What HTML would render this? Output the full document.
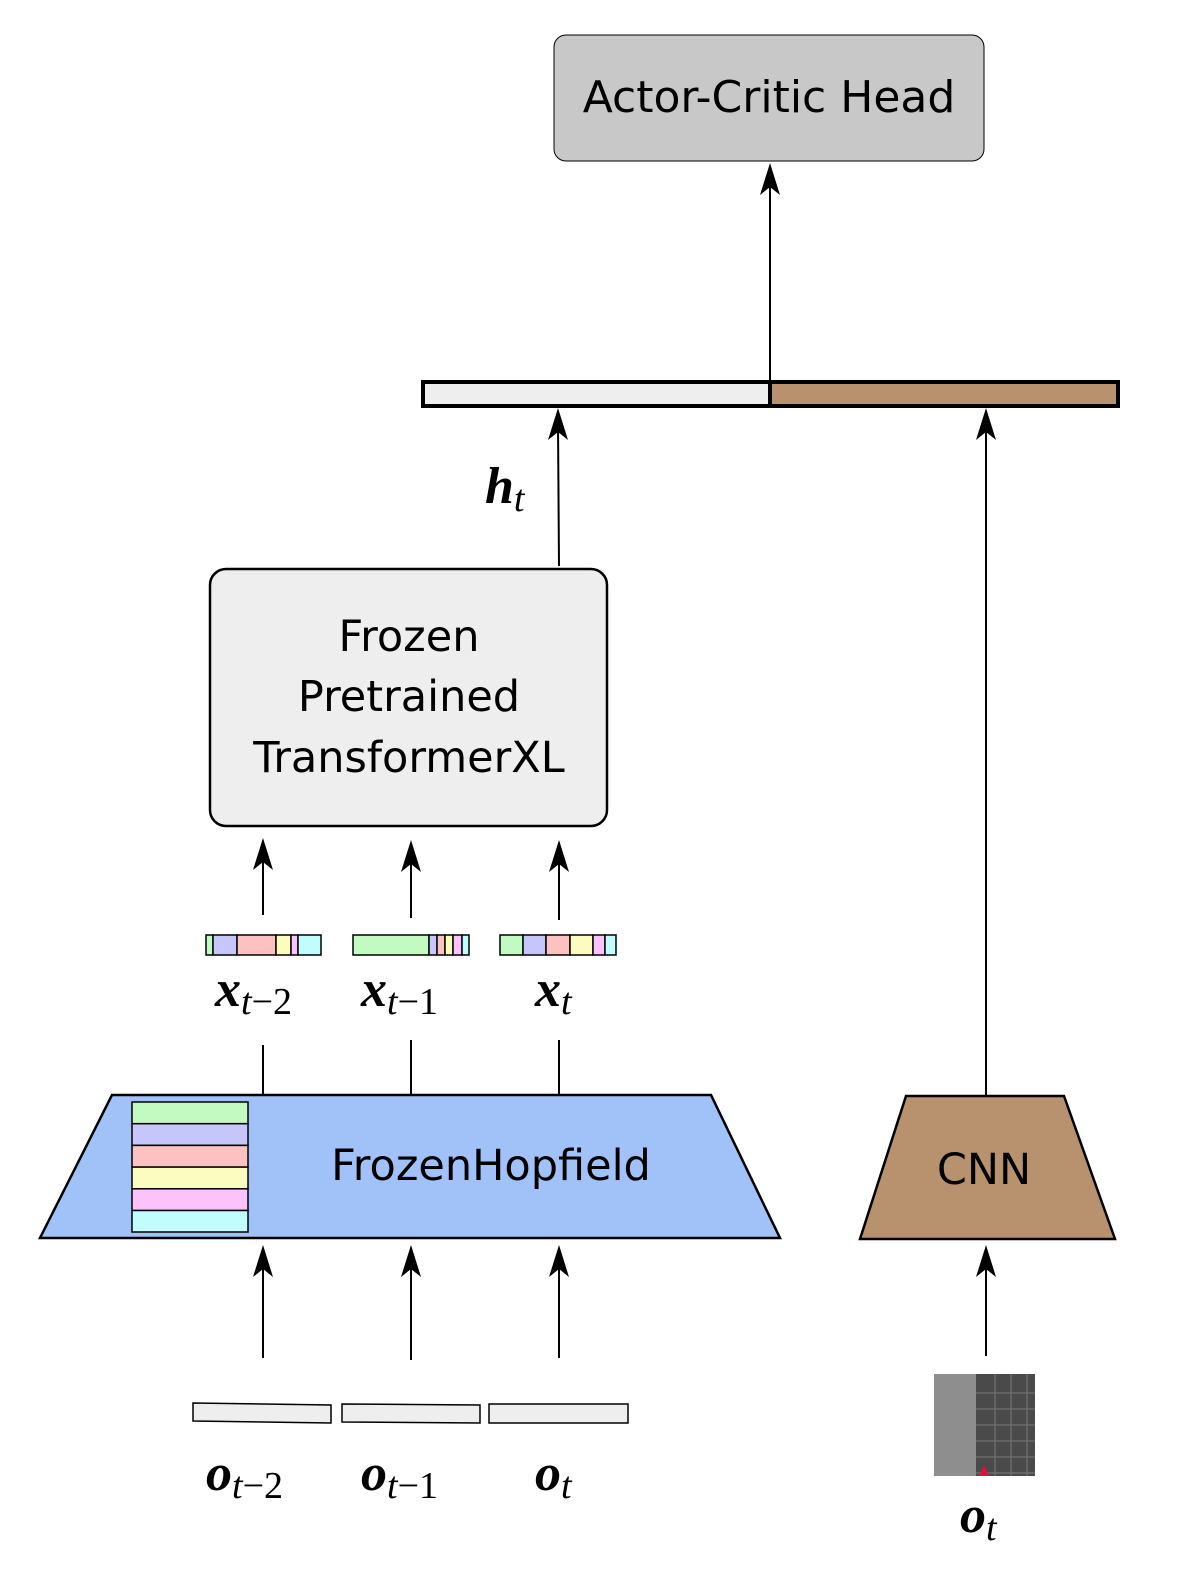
<!DOCTYPE html>
<html><head><style>body{margin:0;background:#fff}svg{display:block}</style></head><body>
<svg width="1182" height="1575" viewBox="0 0 1182 1575" xmlns="http://www.w3.org/2000/svg">
<g font-family="'DejaVu Sans', sans-serif">
<rect x="554" y="35" width="430" height="126" rx="12" fill="#c8c8c8" stroke="#000" stroke-width="1"/>
<text x="769" y="112" text-anchor="middle" font-size="44">Actor-Critic Head</text>
<rect x="423" y="382" width="347" height="24" fill="#eeeeee" stroke="#000" stroke-width="4"/>
<rect x="770" y="382" width="348" height="24" fill="#b8926e" stroke="#000" stroke-width="4"/>
<rect x="210" y="569" width="397" height="257" rx="16" fill="#eeeeee" stroke="#000" stroke-width="2.5"/>
<text x="409" y="651" text-anchor="middle" font-size="43">Frozen</text>
<text x="409" y="711" text-anchor="middle" font-size="43">Pretrained</text>
<text x="409" y="772" text-anchor="middle" font-size="43">TransformerXL</text>
<polygon points="112,1095 711,1095 780,1238 40,1238" fill="#a0c2f8" stroke="#000" stroke-width="2.5"/>
<g stroke="#000" stroke-width="1.5">
<rect x="132" y="1102" width="116" height="21.7" fill="#c2fac2"/>
<rect x="132" y="1123.7" width="116" height="21.7" fill="#c6c6fa"/>
<rect x="132" y="1145.4" width="116" height="21.7" fill="#fcc2c2"/>
<rect x="132" y="1167.1" width="116" height="21.7" fill="#fcfcc0"/>
<rect x="132" y="1188.8" width="116" height="21.7" fill="#fcc2fc"/>
<rect x="132" y="1210.5" width="116" height="21.5" fill="#c2fcfc"/>
</g>
<text x="491" y="1180" text-anchor="middle" font-size="43">FrozenHopfield</text>
<polygon points="906,1096 1064,1096 1115,1239 860,1239" fill="#b8926e" stroke="#000" stroke-width="2.5"/>
<text x="984" y="1184" text-anchor="middle" font-size="43">CNN</text>
</g>
<g stroke="#000" stroke-width="1.5">
<rect x="206" y="935" width="7" height="20" fill="#c2fac2"/><rect x="213" y="935" width="24" height="20" fill="#c6c6fa"/><rect x="237" y="935" width="39" height="20" fill="#fcc2c2"/><rect x="276" y="935" width="15" height="20" fill="#fcfcc0"/><rect x="291" y="935" width="7" height="20" fill="#fcc2fc"/><rect x="298" y="935" width="23" height="20" fill="#c2fcfc"/>
<rect x="353" y="935" width="76" height="20" fill="#c2fac2"/><rect x="429" y="935" width="8" height="20" fill="#c6c6fa"/><rect x="437" y="935" width="8" height="20" fill="#fcc2c2"/><rect x="445" y="935" width="8" height="20" fill="#fcfcc0"/><rect x="453" y="935" width="9" height="20" fill="#fcc2fc"/><rect x="462" y="935" width="7" height="20" fill="#c2fcfc"/>
<rect x="500" y="935" width="23" height="20" fill="#c2fac2"/><rect x="523" y="935" width="23" height="20" fill="#c6c6fa"/><rect x="546" y="935" width="24" height="20" fill="#fcc2c2"/><rect x="570" y="935" width="23" height="20" fill="#fcfcc0"/><rect x="593" y="935" width="12" height="20" fill="#fcc2fc"/><rect x="605" y="935" width="11" height="20" fill="#c2fcfc"/>
<polygon points="193,1403 331,1405 331,1423 193,1421" fill="#eeeeee"/>
<polygon points="342,1404 480,1405 480,1423 342,1422" fill="#eeeeee"/>
<rect x="489" y="1404" width="139" height="19" fill="#eeeeee"/>
</g>
<rect x="934" y="1374" width="42" height="102" fill="#8e8e8e"/>
<rect x="976" y="1374" width="59" height="102" fill="#4a4a4a"/>
<g stroke="#6a6a6a" stroke-width="1.5">
<line x1="995" y1="1374" x2="995" y2="1476"/><line x1="1011" y1="1374" x2="1011" y2="1476"/><line x1="1027" y1="1374" x2="1027" y2="1476"/>
<line x1="976" y1="1393" x2="1035" y2="1393"/><line x1="976" y1="1409" x2="1035" y2="1409"/><line x1="976" y1="1425" x2="1035" y2="1425"/><line x1="976" y1="1441" x2="1035" y2="1441"/><line x1="976" y1="1457" x2="1035" y2="1457"/><line x1="976" y1="1473" x2="1035" y2="1473"/>
</g>
<polygon points="984,1465 979,1476 989,1476" fill="#dc143c"/>
<g stroke="#000" stroke-width="2" fill="none">
<line x1="770" y1="382" x2="770" y2="180"/>
<line x1="559" y1="566" x2="558" y2="425"/>
<line x1="986" y1="1096" x2="986" y2="425"/>
<line x1="263" y1="915" x2="263" y2="855"/>
<line x1="411" y1="918" x2="411" y2="855"/>
<line x1="559" y1="920" x2="559" y2="855"/>
<line x1="263" y1="1045" x2="263" y2="1095"/>
<line x1="411" y1="1040" x2="411" y2="1095"/>
<line x1="559" y1="1040" x2="559" y2="1095"/>
<line x1="263" y1="1358" x2="263" y2="1262"/>
<line x1="411" y1="1360" x2="411" y2="1262"/>
<line x1="559" y1="1358" x2="559" y2="1262"/>
<line x1="986" y1="1356" x2="986" y2="1262"/>
</g>
<g fill="#000">
<path d="M770,163 l-10,32 l10,-8 l10,8z"/>
<path d="M558,408 l-10,32 l10,-8 l10,8z"/>
<path d="M986,408 l-10,32 l10,-8 l10,8z"/>
<path d="M263,838 l-10,32 l10,-8 l10,8z"/>
<path d="M411,840 l-10,32 l10,-8 l10,8z"/>
<path d="M559,840 l-10,32 l10,-8 l10,8z"/>
<path d="M263,1245 l-10,32 l10,-8 l10,8z"/>
<path d="M411,1245 l-10,32 l10,-8 l10,8z"/>
<path d="M559,1245 l-10,32 l10,-8 l10,8z"/>
<path d="M986,1245 l-10,32 l10,-8 l10,8z"/>
</g>
<g font-family="'Liberation Serif', serif">
<text x="485" y="503" font-size="52" font-weight="bold" font-style="italic">h<tspan font-size="38" font-weight="normal" dy="8">t</tspan></text>
<text x="215" y="1006" font-size="52" font-weight="bold" font-style="italic">x<tspan font-size="38" font-weight="normal" dy="8">t</tspan><tspan font-size="38" font-weight="normal" font-style="normal">−2</tspan></text>
<text x="361" y="1006" font-size="52" font-weight="bold" font-style="italic">x<tspan font-size="38" font-weight="normal" dy="8">t</tspan><tspan font-size="38" font-weight="normal" font-style="normal">−1</tspan></text>
<text x="535" y="1006" font-size="52" font-weight="bold" font-style="italic">x<tspan font-size="38" font-weight="normal" dy="8">t</tspan></text>
<text x="206" y="1490" font-size="52" font-weight="bold" font-style="italic">o<tspan font-size="38" font-weight="normal" dy="8">t</tspan><tspan font-size="38" font-weight="normal" font-style="normal">−2</tspan></text>
<text x="361" y="1490" font-size="52" font-weight="bold" font-style="italic">o<tspan font-size="38" font-weight="normal" dy="8">t</tspan><tspan font-size="38" font-weight="normal" font-style="normal">−1</tspan></text>
<text x="535" y="1490" font-size="52" font-weight="bold" font-style="italic">o<tspan font-size="38" font-weight="normal" dy="8">t</tspan></text>
<text x="960" y="1532" font-size="52" font-weight="bold" font-style="italic">o<tspan font-size="38" font-weight="normal" dy="8">t</tspan></text>
</g>
</svg>
</body></html>
